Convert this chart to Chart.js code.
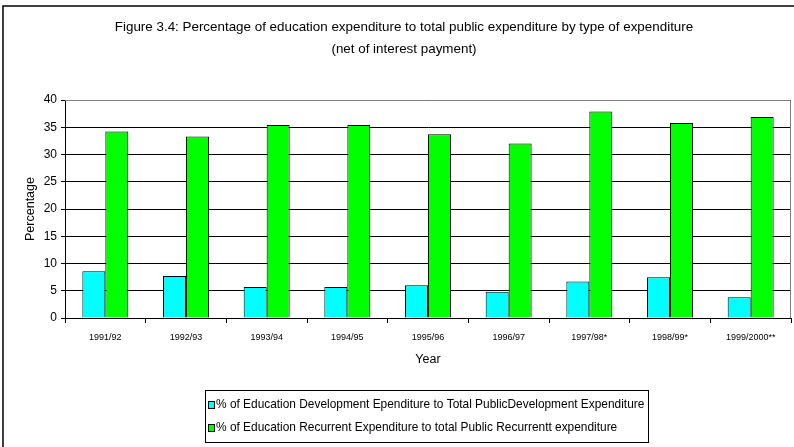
<!DOCTYPE html>
<html lang="en">
<head>
<meta charset="UTF-8">
<title>Education expenditure by type</title>
<script src="https://cdn.jsdelivr.net/npm/chart.js"></script>
<style>
  body { margin: 0; background: #fff; }
  canvas { display: block; }
</style>
</head>
<body>
<canvas id="eduChart" width="794" height="447"></canvas>
<script>
const years = ['1991/92', '1992/93', '1993/94', '1994/95', '1995/96', '1996/97', '1997/98*', '1998/99*', '1999/2000**'];
const developmentPct = [8.6, 7.7, 5.7, 5.7, 6.0, 4.8, 6.7, 7.5, 3.8];
const recurrentPct = [34.2, 33.3, 35.4, 35.4, 33.7, 32.0, 37.9, 35.8, 36.9];
const titleLines = [
  'Figure 3.4: Percentage of education expenditure to total public expenditure by type of expenditure',
  '(net of interest payment)'
];
const seriesLabels = [
  '% of Education Development Ependiture to Total PublicDevelopment Expenditure',
  '% of Education Recurrent Expenditure to total Public Recurrentt expenditure'
];

const FONT = '"Liberation Sans", Arial, sans-serif';
Chart.defaults.font.family = FONT;
Chart.defaults.color = '#000';

// frame, title, plot border and boxed legend
const decorations = {
  id: 'decorations',
  beforeDatasetsDraw(chart) {
    const { ctx, chartArea: a } = chart;
    ctx.save();
    ctx.strokeStyle = '#808080';
    ctx.lineWidth = 1;
    ctx.beginPath();
    ctx.moveTo(a.left, a.top + 0.5);
    ctx.lineTo(a.right - 0.5, a.top + 0.5);
    ctx.lineTo(a.right - 0.5, a.bottom);
    ctx.stroke();
    ctx.restore();
  },
  afterDraw(chart) {
    const { ctx } = chart;
    ctx.save();
    // outer frame
    ctx.strokeStyle = '#000';
    ctx.lineWidth = 1.5;
    ctx.strokeRect(3, 6, 900, 600);

    // title
    ctx.fillStyle = '#000';
    ctx.font = '13.4px ' + FONT;
    ctx.textAlign = 'center';
    ctx.textBaseline = 'middle';
    ctx.fillText(titleLines[0], 404, 27);
    ctx.fillText(titleLines[1], 404, 49);

    // legend
    ctx.font = '11.9px ' + FONT;
    ctx.lineWidth = 1;
    ctx.strokeStyle = '#000';
    ctx.strokeRect(205.5, 390.5, 443, 52);
    ctx.textAlign = 'left';
    chart.data.datasets.forEach((ds, i) => {
      const y = 405 + i * 23;
      ctx.fillStyle = ds.backgroundColor;
      ctx.fillRect(208.5, y - 3.5, 6, 7);
      ctx.strokeRect(208.5, y - 3.5, 6, 7);
      ctx.fillStyle = '#000';
      ctx.fillText(ds.label, 216, y);
    });
    ctx.restore();
  }
};

new Chart(document.getElementById('eduChart'), {
  type: 'bar',
  data: {
    labels: years,
    datasets: [
      {
        label: seriesLabels[0],
        data: developmentPct,
        backgroundColor: '#00FFFF',
        borderColor: '#000',
        borderWidth: 1,
        borderSkipped: 'bottom'
      },
      {
        label: seriesLabels[1],
        data: recurrentPct,
        backgroundColor: '#00FF00',
        borderColor: '#000',
        borderWidth: 1,
        borderSkipped: 'bottom'
      }
    ]
  },
  options: {
    responsive: false,
    animation: false,
    layout: { padding: { top: 100, right: 3, left: 0, bottom: 0 } },
    datasets: { bar: { barPercentage: 1, categoryPercentage: 0.57 } },
    plugins: {
      legend: { display: false },
      title: { display: false },
      tooltip: { enabled: false }
    },
    scales: {
      x: {
        afterFit(scale) { scale.height = 129; },
        grid: { offset: true, drawOnChartArea: false, tickLength: 5, color: '#000' },
        border: { color: '#000', width: 1 },
        ticks: { font: { size: 9 }, padding: 9, maxRotation: 0, autoSkip: false },
        title: { display: true, text: 'Year', font: { size: 12.5 }, padding: { top: 0, bottom: 80 } }
      },
      y: {
        min: 0,
        max: 40,
        afterFit(scale) { scale.width = 65; },
        grid: { color: '#000', tickLength: 4 },
        border: { color: '#000', width: 1 },
        ticks: { stepSize: 5, font: { size: 12 }, padding: 4 },
        title: { display: true, text: 'Percentage', font: { size: 12.5 }, padding: { top: 23, bottom: 0 } }
      }
    }
  },
  plugins: [decorations]
});
</script>
</body>
</html>
